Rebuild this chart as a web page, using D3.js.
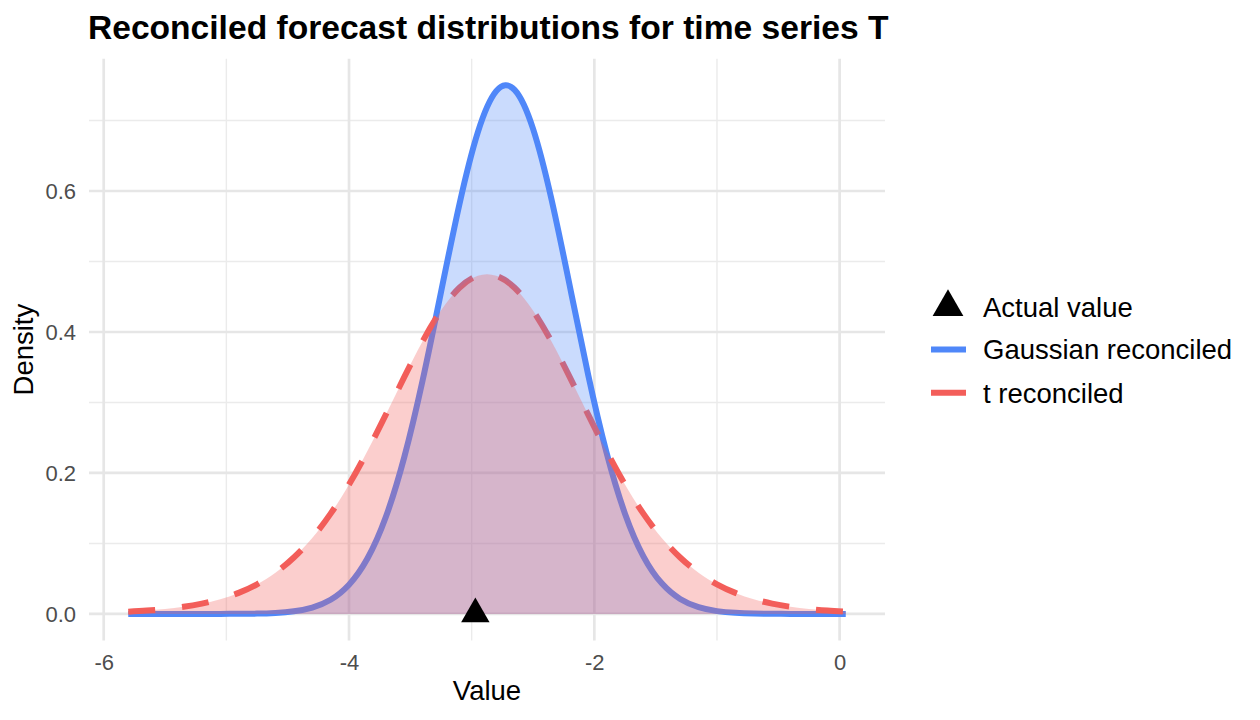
<!DOCTYPE html>
<html>
<head>
<meta charset="utf-8">
<script src="https://cdn.jsdelivr.net/npm/d3@7"></script>
<style>
  body { margin: 0; background: #fff; }
  svg { display: block; font-family: "Liberation Sans", Arial, Helvetica, sans-serif; }
</style>
</head>
<body>
<div id="chart"></div>
<script>
// values
var xValues = [-5.80, -5.65, -5.50, -5.35, -5.20, -5.05, -4.90, -4.75, -4.60, -4.45,
               -4.30, -4.15, -4.00, -3.85, -3.70, -3.55, -3.40, -3.25, -3.10, -2.95,
               -2.80, -2.65, -2.50, -2.35, -2.20, -2.05, -1.90, -1.75, -1.60, -1.45,
               -1.30, -1.15, -1.00, -0.85, -0.70, -0.55, -0.40, -0.25, -0.10, 0.05];

var gaussianDensity = [0.0000, 0.0000, 0.0000, 0.0000, 0.0000, 0.0001, 0.0002, 0.0005, 0.0015, 0.0038,
                       0.0091, 0.0202, 0.0415, 0.0786, 0.1375, 0.2221, 0.3313, 0.4566, 0.5811, 0.6831,
                       0.7416, 0.7435, 0.6885, 0.5888, 0.4652, 0.3393, 0.2286, 0.1423, 0.0818, 0.0434,
                       0.0213, 0.0096, 0.0040, 0.0016, 0.0006, 0.0002, 0.0001, 0.0000, 0.0000, 0.0000];

var tDensity = [0.0033, 0.0048, 0.0070, 0.0101, 0.0146, 0.0210, 0.0299, 0.0421, 0.0585, 0.0801,
                0.1078, 0.1423, 0.1835, 0.2310, 0.2827, 0.3359, 0.3867, 0.4304, 0.4627, 0.4798,
                0.4798, 0.4627, 0.4304, 0.3867, 0.3359, 0.2827, 0.2310, 0.1835, 0.1423, 0.1078,
                0.0801, 0.0585, 0.0421, 0.0299, 0.0210, 0.0146, 0.0101, 0.0070, 0.0048, 0.0033];

var actualValue = -2.97;

var xMajorTicks = [-6, -4, -2, 0];
var xMinorTicks = [-5, -3, -1];
var yMajorTicks = [0, 0.2, 0.4, 0.6];
var yMinorTicks = [0.1, 0.3, 0.5, 0.7];

var legendLabels = ["Actual value", "Gaussian reconciled", "t reconciled"];

var titleText = "Reconciled forecast distributions for time series T";

var blue = "#4F87F9", red = "#F35E5A";

var width = 1260, height = 720;
var panel = {left: 89, right: 885, top: 58.8, bottom: 640.4};

var svg = d3.select("#chart").append("svg")
    .attr("width", width)
    .attr("height", height);

var x = d3.scaleLinear()
    .domain([-6.12, 0.37])
    .range([panel.left, panel.right]);

var y = d3.scaleLinear()
    .domain([-0.0375, 0.7875])
    .range([panel.bottom, panel.top]);

// grid
var grid = svg.append("g").attr("class", "grid");

grid.selectAll(".xminor").data(xMinorTicks).enter().append("line")
    .attr("x1", function(d) { return x(d); }).attr("x2", function(d) { return x(d); })
    .attr("y1", panel.top).attr("y2", panel.bottom)
    .attr("stroke", "#EBEBEB").attr("stroke-width", 1.4);

grid.selectAll(".yminor").data(yMinorTicks).enter().append("line")
    .attr("y1", function(d) { return y(d); }).attr("y2", function(d) { return y(d); })
    .attr("x1", panel.left).attr("x2", panel.right)
    .attr("stroke", "#EBEBEB").attr("stroke-width", 1.4);

grid.selectAll(".xmajor").data(xMajorTicks).enter().append("line")
    .attr("x1", function(d) { return x(d); }).attr("x2", function(d) { return x(d); })
    .attr("y1", panel.top).attr("y2", panel.bottom)
    .attr("stroke", "#E6E6E6").attr("stroke-width", 2.7);

grid.selectAll(".ymajor").data(yMajorTicks).enter().append("line")
    .attr("y1", function(d) { return y(d); }).attr("y2", function(d) { return y(d); })
    .attr("x1", panel.left).attr("x2", panel.right)
    .attr("stroke", "#E6E6E6").attr("stroke-width", 2.7);

// series
var gaussData = xValues.map(function(v, i) { return {x: v, y: gaussianDensity[i]}; });
var tData = xValues.map(function(v, i) { return {x: v, y: tDensity[i]}; });

var line = d3.line()
    .curve(d3.curveNatural)
    .x(function(d) { return x(d.x); })
    .y(function(d) { return y(Math.max(0, d.y)); });

var area = d3.area()
    .curve(d3.curveNatural)
    .x(function(d) { return x(d.x); })
    .y0(y(0))
    .y1(function(d) { return y(Math.max(0, d.y)); });

svg.append("path")
    .datum(gaussData)
    .attr("d", line)
    .attr("fill", "none")
    .attr("stroke", blue)
    .attr("stroke-width", 6);

svg.append("path")
    .datum(tData)
    .attr("d", line)
    .attr("fill", "none")
    .attr("stroke", red)
    .attr("stroke-width", 6)
    .attr("stroke-dasharray", "27,27");

svg.append("path")
    .datum(gaussData)
    .attr("d", area)
    .attr("fill", blue)
    .attr("fill-opacity", 0.3);

svg.append("path")
    .datum(tData)
    .attr("d", area)
    .attr("fill", red)
    .attr("fill-opacity", 0.3);

// actual value marker
svg.append("path")
    .attr("d", d3.symbol().type(d3.symbolTriangle).size(350))
    .attr("transform", "translate(" + x(actualValue) + "," + y(0) + ")")
    .attr("fill", "#000");

// axes
var xAxis = svg.append("g")
    .attr("transform", "translate(0," + panel.bottom + ")")
    .call(d3.axisBottom(x).tickValues(xMajorTicks).tickSize(0).tickPadding(14)
        .tickFormat(d3.format("d")));

var yAxis = svg.append("g")
    .attr("transform", "translate(" + panel.left + ",0)")
    .call(d3.axisLeft(y).tickValues(yMajorTicks).tickSize(0).tickPadding(13)
        .tickFormat(d3.format(".1f")));

[xAxis, yAxis].forEach(function(a) {
  a.select(".domain").remove();
  a.selectAll("text")
    .attr("font-size", 22)
    .attr("fill", "#4D4D4D")
    .style("font-family", "Liberation Sans, Arial, sans-serif");
});
// ggplot uses a plain hyphen for negative numbers
xAxis.selectAll("text").text(function(d) { return String(d); });

svg.append("text")
    .attr("x", (panel.left + panel.right) / 2)
    .attr("y", 700)
    .attr("text-anchor", "middle")
    .attr("font-size", 27.5)
    .text("Value");

svg.append("text")
    .attr("transform", "translate(33," + ((panel.top + panel.bottom) / 2) + ") rotate(-90)")
    .attr("text-anchor", "middle")
    .attr("font-size", 27.5)
    .text("Density");

svg.append("text")
    .attr("x", 88)
    .attr("y", 39)
    .attr("font-size", 33.6)
    .attr("font-weight", "bold")
    .text(titleText);

// legend
var legend = svg.append("g").attr("transform", "translate(930,0)");
var legendY = [307, 349.5, 392.8];

legend.append("path")
    .attr("d", d3.symbol().type(d3.symbolTriangle).size(410))
    .attr("transform", "translate(18," + legendY[0] + ")")
    .attr("fill", "#000");

legend.append("line")
    .attr("x1", 1).attr("x2", 36)
    .attr("y1", legendY[1]).attr("y2", legendY[1])
    .attr("stroke", blue).attr("stroke-width", 6);

legend.append("line")
    .attr("x1", 1).attr("x2", 36)
    .attr("y1", legendY[2]).attr("y2", legendY[2])
    .attr("stroke", red).attr("stroke-width", 6);

legend.selectAll(".label").data(legendLabels).enter().append("text")
    .attr("x", 53)
    .attr("y", function(d, i) { return legendY[i] + 9.8; })
    .attr("font-size", 27.5)
    .text(function(d) { return d; });
</script>
</body>
</html>
